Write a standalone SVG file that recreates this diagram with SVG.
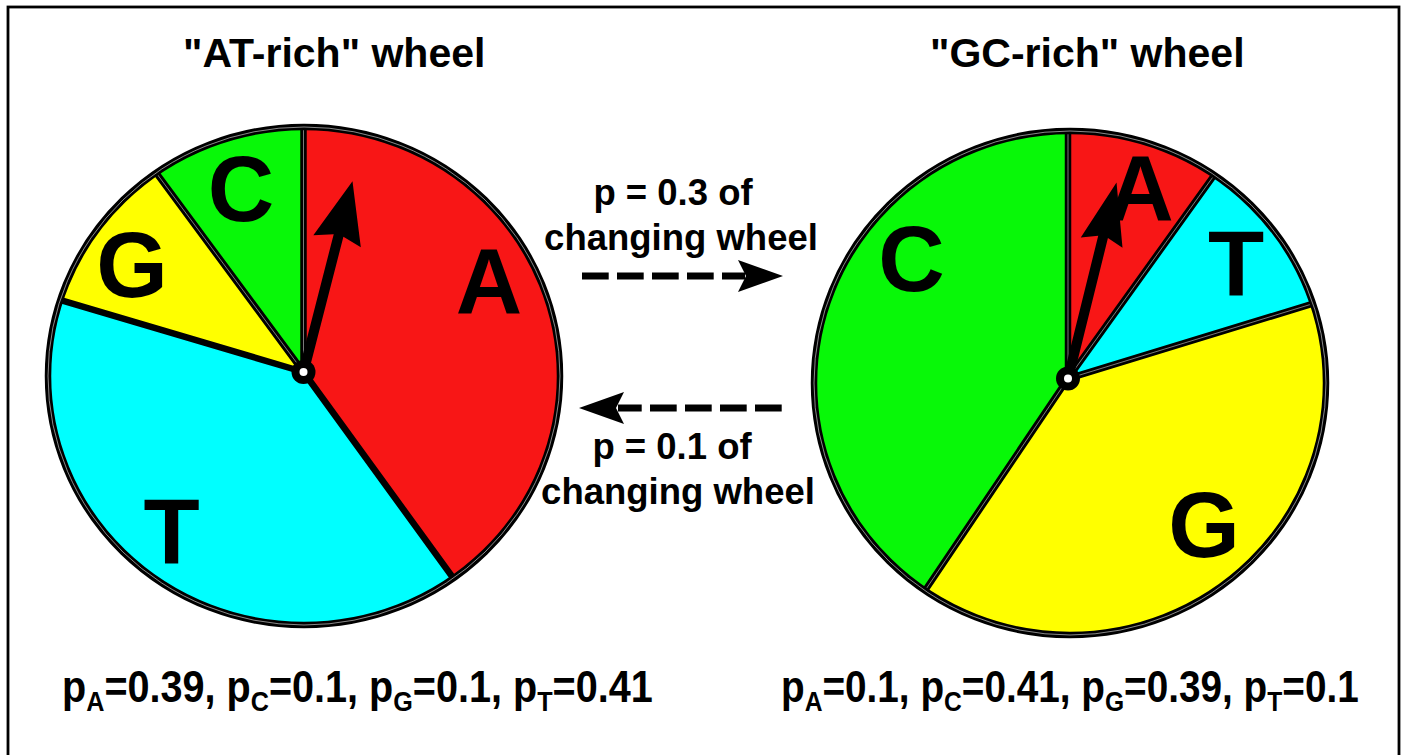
<svg xmlns="http://www.w3.org/2000/svg" width="1405" height="755" viewBox="0 0 1405 755">
<style>
  text { font-family: "Liberation Sans", Arial, sans-serif; font-weight: bold; fill: #000; }
  .title { font-size: 41px; }
  .mid { font-size: 36.5px; text-anchor: middle; }
  .big { font-size: 92px; text-anchor: middle; }
  .prob { font-size: 44px; }
  .sub { font-size: 28px; }
  .divB { stroke: #000; stroke-width: 6.5; fill: none; }
  .divW { stroke: #fff; stroke-width: 0.8; fill: none; opacity: 0.6; }
  .rimB { stroke: #000; stroke-width: 6.5; fill: none; }
  .rimW { stroke: #fff; stroke-width: 0.9; fill: none; opacity: 0.6; }
  .dash { stroke: #000; stroke-width: 7; stroke-dasharray: 26.7 8.3; fill: none; }
  .red { fill: #f81616; }
  .grn { fill: #08f808; }
  .yel { fill: #ffff00; }
  .cya { fill: #00ffff; }
</style>
<defs>
  <clipPath id="clipL"><ellipse cx="304" cy="376" rx="256" ry="249"/></clipPath>
  <clipPath id="clipR"><ellipse cx="1070" cy="383" rx="256" ry="252"/></clipPath>
</defs>

<rect x="8" y="7" width="1391" height="760" fill="none" stroke="#000" stroke-width="2.8"/>

<g id="wheel-at">
  <text class="title" x="183" y="66.5">"AT-rich" wheel</text>
  <g clip-path="url(#clipL)">
    <path class="red" d="M303.5,372 L303.5,-28 A400,400 0 0 1 538.6,695.6 Z"/>
    <path class="cya" d="M303.5,372 L538.6,695.6 A400,400 0 0 1 -80,258.4 Z"/>
    <path class="yel" d="M303.5,372 L-80,258.4 A400,400 0 0 1 65.6,50.4 Z"/>
    <path class="grn" d="M303.5,372 L65.6,50.4 A400,400 0 0 1 303.5,-28 Z"/>
    <path class="divB" d="M303.5,372 L303.5,-28 M303.5,372 L538.6,695.6 M303.5,372 L-80,258.4 M303.5,372 L65.6,50.4"/>
    <path class="divW" d="M303.5,372 L303.5,-28 M303.5,372 L65.6,50.4"/>
  </g>
  <ellipse class="rimB" cx="304" cy="376" rx="256" ry="249"/>
  <ellipse class="rimW" cx="304" cy="376" rx="256" ry="249"/>
  <text class="big" x="241" y="221">C</text>
  <text class="big" x="132" y="297">G</text>
  <text class="big" x="489" y="313">A</text>
  <text class="big" x="171.5" y="564">T</text>
  <path transform="translate(303.5,372) rotate(14.4)" d="M-5,0 L-5,-141 L-24.5,-135 L0,-197 L24.5,-135 L5,-141 L5,0 Z" fill="#000"/>
  <circle cx="303.5" cy="372" r="12" fill="#000"/>
  <circle cx="303.5" cy="372" r="4" fill="#fff"/>
  <text class="prob" transform="translate(62,702) scale(0.9,1)">p<tspan class="sub" dy="9">A</tspan><tspan dy="-9">=0.39, p</tspan><tspan class="sub" dy="9">C</tspan><tspan dy="-9">=0.1, p</tspan><tspan class="sub" dy="9">G</tspan><tspan dy="-9">=0.1, p</tspan><tspan class="sub" dy="9">T</tspan><tspan dy="-9">=0.41</tspan></text>
</g>

<g id="wheel-gc">
  <text class="title" x="930" y="66.5">"GC-rich" wheel</text>
  <g clip-path="url(#clipR)">
    <path class="red" d="M1068,378.6 L1068,-21.4 A400,400 0 0 1 1301.4,53.8 Z"/>
    <path class="cya" d="M1068,378.6 L1301.4,53.8 A400,400 0 0 1 1450.5,261.6 Z"/>
    <path class="yel" d="M1068,378.6 L1450.5,261.6 A400,400 0 0 1 844.3,710.2 Z"/>
    <path class="grn" d="M1068,378.6 L844.3,710.2 A400,400 0 0 1 1068,-21.4 Z"/>
    <path class="divB" d="M1068,378.6 L1068,-21.4 M1068,378.6 L1301.4,53.8 M1068,378.6 L1450.5,261.6 M1068,378.6 L844.3,710.2"/>
    <path class="divW" d="M1068,378.6 L1068,-21.4 M1068,378.6 L1301.4,53.8 M1068,378.6 L1450.5,261.6 M1068,378.6 L844.3,710.2"/>
  </g>
  <ellipse class="rimB" cx="1070" cy="383" rx="256" ry="252"/>
  <ellipse class="rimW" cx="1070" cy="383" rx="256" ry="252"/>
  <text class="big" x="911.5" y="291">C</text>
  <text class="big" x="1140.5" y="220">A</text>
  <text class="big" x="1236" y="296">T</text>
  <text class="big" x="1204" y="557">G</text>
  <path transform="translate(1068,378.6) rotate(13.9)" d="M-5,0 L-5,-146 L-21.5,-140 L0,-202 L21.5,-140 L5,-146 L5,0 Z" fill="#000"/>
  <circle cx="1068" cy="378.6" r="12" fill="#000"/>
  <circle cx="1068" cy="378.6" r="4" fill="#fff"/>
  <text class="prob" transform="translate(781,702) scale(0.88,1)">p<tspan class="sub" dy="9">A</tspan><tspan dy="-9">=0.1, p</tspan><tspan class="sub" dy="9">C</tspan><tspan dy="-9">=0.41, p</tspan><tspan class="sub" dy="9">G</tspan><tspan dy="-9">=0.39, p</tspan><tspan class="sub" dy="9">T</tspan><tspan dy="-9">=0.1</tspan></text>
</g>

<g id="connectors">
  <g id="to-gc">
    <line class="dash" x1="582" y1="276" x2="745" y2="276"/>
    <path d="M783,276 L738,260 L746,276 L738,292 Z" fill="#000"/>
  </g>
  <g id="to-at">
    <line class="dash" x1="781.7" y1="408" x2="618" y2="408"/>
    <path d="M579,408 L624,392 L616,408 L624,424 Z" fill="#000"/>
  </g>
  <text class="mid" x="673" y="205">p = 0.3 of</text>
  <text class="mid" x="681" y="250">changing wheel</text>
  <text class="mid" x="672" y="459">p = 0.1 of</text>
  <text class="mid" x="678" y="504">changing wheel</text>
</g>
</svg>
